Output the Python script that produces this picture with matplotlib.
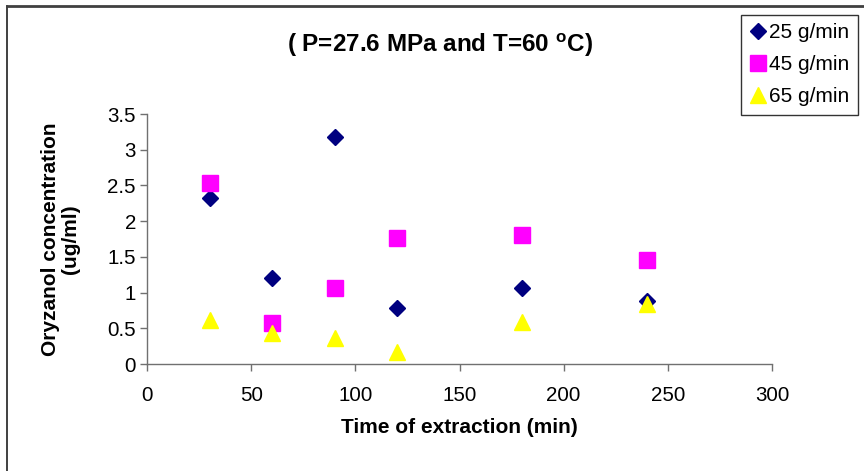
import matplotlib
matplotlib.use('Agg')
import matplotlib.pyplot as plt
from matplotlib.lines import Line2D

# Time of extraction (min)
time_min = [30, 60, 90, 120, 180, 240]

# Oryzanol concentration (ug/ml) for each flow rate
conc_25 = [2.32, 1.20, 3.18, 0.79, 1.07, 0.88]
conc_45 = [2.53, 0.57, 1.07, 1.77, 1.81, 1.45]
conc_65 = [0.62, 0.43, 0.37, 0.17, 0.59, 0.84]

labels = ['25 g/min', '45 g/min', '65 g/min']

plt.rcParams['font.family'] = ['Liberation Sans', 'DejaVu Sans']
plt.rcParams['mathtext.fontset'] = 'custom'
plt.rcParams['mathtext.rm'] = 'Liberation Sans'
plt.rcParams['mathtext.bf'] = 'Liberation Sans:bold'

fig = plt.figure(figsize=(8.64, 4.71), dpi=100)
ax = fig.add_axes([147 / 864, 1 - 364 / 471, 625 / 864, 250 / 471])

ax.plot(time_min, conc_25, linestyle='none', marker='D', markersize=8.2,
        color='#000080', label=labels[0], zorder=3)
ax.plot(time_min, conc_45, linestyle='none', marker='s', markersize=11,
        color='#FF00FF', label=labels[1], zorder=3)
ax.plot(time_min, conc_65, linestyle='none', marker='^', markersize=12,
        color='#FFFF00', label=labels[2], zorder=3)

ax.set_xlim(0, 300)
ax.set_ylim(0, 3.5)
ax.set_xticks(range(0, 301, 50))
ax.set_yticks([0, 0.5, 1, 1.5, 2, 2.5, 3, 3.5])
ax.set_yticklabels(['0', '0.5', '1', '1.5', '2', '2.5', '3', '3.5'])

for side in ['top', 'right']:
    ax.spines[side].set_visible(False)
for side in ['left', 'bottom']:
    ax.spines[side].set_color('#707070')
    ax.spines[side].set_linewidth(1)

ax.tick_params(axis='both', direction='out', length=5, width=1, color='#707070',
               labelsize=14.8)
ax.tick_params(axis='x', pad=11)
ax.tick_params(axis='y', pad=3)

ax.set_xlabel('Time of extraction (min)', fontsize=15, fontweight='bold', labelpad=9)
ax.set_ylabel('Oryzanol concentration\n(ug/ml)', fontsize=15, fontweight='bold',
              linespacing=1.1)
ax.yaxis.set_label_coords(-0.107, 0.5)

fig.text(440 / 864, 1 - 45 / 471, '( P=27.6 MPa and T=60 $^{\\mathbf{o}}$C)',
         ha='center', va='center', fontsize=17.5, fontweight='bold')

leg = fig.legend(loc='upper left', bbox_to_anchor=(741 / 864, 1 - 15 / 471),
                 fontsize=15, frameon=True, fancybox=False, borderpad=0.4,
                 labelspacing=0.62, handlelength=0.8, handletextpad=0.15,
                 borderaxespad=0, markerscale=1.0)
leg.get_frame().set_edgecolor('#000000')
leg.get_frame().set_linewidth(1)

# figure border (left and top edges visible)
fig.add_artist(Line2D([7 / 864, 7 / 864], [0, 1 - 6 / 471], transform=fig.transFigure,
                      color='#202020', linewidth=1.2))
fig.add_artist(Line2D([7 / 864, 1], [1 - 6 / 471, 1 - 6 / 471], transform=fig.transFigure,
                      color='#404040', linewidth=2))

fig.savefig('out.png', dpi=100)
